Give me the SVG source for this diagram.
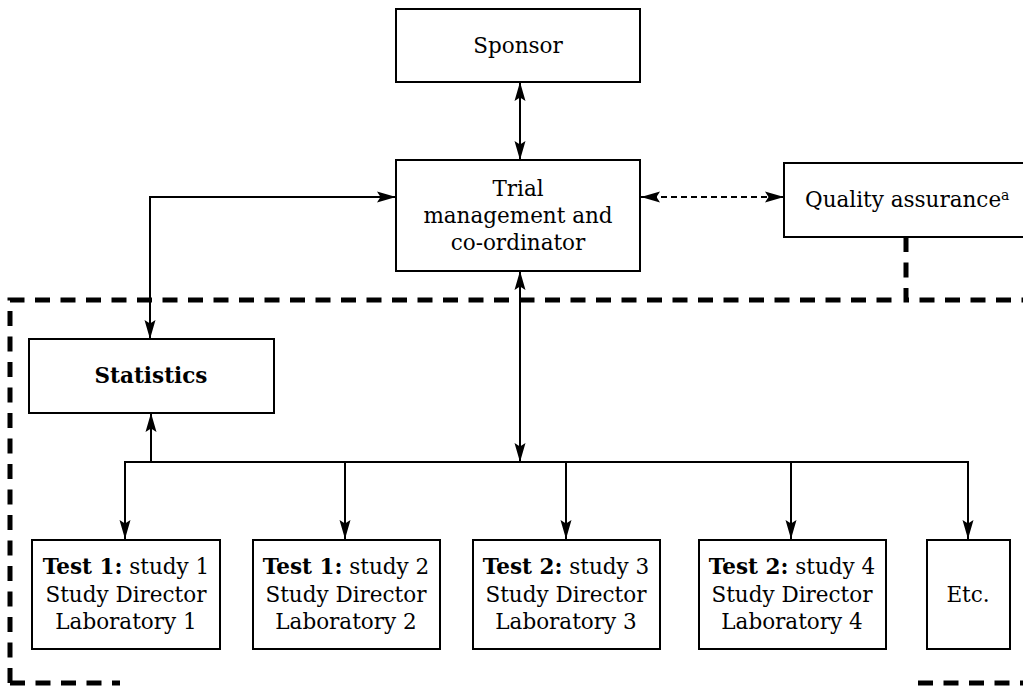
<svg xmlns="http://www.w3.org/2000/svg" width="1023" height="687" viewBox="0 0 1023 687">
  <style>
    .box { fill: #fff; stroke: #000; stroke-width: 2; }
    .t { font-family: "DejaVu Serif", "Liberation Serif", serif; font-size: 21.5px; fill: #000; text-anchor: middle; }
    .b { font-weight: bold; }
    .con { fill: none; stroke: #000; stroke-width: 2; }
    .dash { stroke-dasharray: 6 4; }
    .border { fill: none; stroke: #000; stroke-width: 5; stroke-dasharray: 15 10.5; }
  </style>
  <defs>
    <marker id="arr" markerUnits="userSpaceOnUse" markerWidth="19" markerHeight="12" refX="19" refY="6" orient="auto-start-reverse">
      <path d="M0,0.5 L19,6 L0,11.5 L3.5,6 z" fill="#000"/>
    </marker>
  </defs>

  <rect width="1023" height="687" fill="#fff"/>

  <!-- dashed boundary of the test facilities -->
  <g id="boundary">
    <path class="border" d="M10,683 L10,300 L898,300"/>
    <path class="border" d="M10,683 L120,683"/>
    <path class="border" d="M906,237 L906,300 L1030,300"/>
    <path class="border" d="M918,683 L1030,683"/>
  </g>

  <g id="connectors">
    <line class="con" x1="520" y1="82" x2="520" y2="160" marker-start="url(#arr)" marker-end="url(#arr)"/>
    <path class="con" d="M396,197 H150 V339" marker-start="url(#arr)" marker-end="url(#arr)"/>
    <line class="con dash" x1="641" y1="197" x2="784" y2="197" marker-start="url(#arr)" marker-end="url(#arr)"/>
    <line class="con" x1="520" y1="271" x2="520" y2="462" marker-start="url(#arr)" marker-end="url(#arr)"/>
    <line class="con" x1="125" y1="462" x2="968" y2="462"/>
    <line class="con" x1="151" y1="462" x2="151" y2="413" marker-end="url(#arr)"/>
    <line class="con" x1="125" y1="461" x2="125" y2="539" marker-end="url(#arr)"/>
    <line class="con" x1="345" y1="462" x2="345" y2="539" marker-end="url(#arr)"/>
    <line class="con" x1="566" y1="462" x2="566" y2="539" marker-end="url(#arr)"/>
    <line class="con" x1="791" y1="462" x2="791" y2="539" marker-end="url(#arr)"/>
    <line class="con" x1="968" y1="461" x2="968" y2="539" marker-end="url(#arr)"/>
  </g>

  <g id="sponsor">
    <rect class="box" x="396" y="9" width="244" height="73"/>
    <text class="t" x="518" y="53">Sponsor</text>
  </g>

  <g id="trial-management">
    <rect class="box" x="396" y="160" width="244" height="111"/>
    <text class="t" x="518" y="196">Trial</text>
    <text class="t" x="518" y="223">management and</text>
    <text class="t" x="518" y="250">co-ordinator</text>
  </g>

  <g id="quality-assurance">
    <rect class="box" x="784" y="163" width="250" height="74"/>
    <text class="t" x="805" y="207" style="text-anchor:start">Quality assurance<tspan font-size="14" dy="-7">a</tspan></text>
  </g>

  <g id="statistics">
    <rect class="box" x="29" y="339" width="245" height="74"/>
    <text class="t b" x="151" y="383">Statistics</text>
  </g>

  <g id="study-1">
    <rect class="box" x="32" y="540" width="188" height="109"/>
    <text class="t" x="126" y="574"><tspan class="b">Test 1:</tspan> study 1</text>
    <text class="t" x="126" y="602">Study Director</text>
    <text class="t" x="126" y="629">Laboratory 1</text>
  </g>

  <g id="study-2">
    <rect class="box" x="253" y="540" width="187" height="109"/>
    <text class="t" x="346" y="574"><tspan class="b">Test 1:</tspan> study 2</text>
    <text class="t" x="346" y="602">Study Director</text>
    <text class="t" x="346" y="629">Laboratory 2</text>
  </g>

  <g id="study-3">
    <rect class="box" x="473" y="540" width="187" height="109"/>
    <text class="t" x="566" y="574"><tspan class="b">Test 2:</tspan> study 3</text>
    <text class="t" x="566" y="602">Study Director</text>
    <text class="t" x="566" y="629">Laboratory 3</text>
  </g>

  <g id="study-4">
    <rect class="box" x="699" y="540" width="187" height="109"/>
    <text class="t" x="792" y="574"><tspan class="b">Test 2:</tspan> study 4</text>
    <text class="t" x="792" y="602">Study Director</text>
    <text class="t" x="792" y="629">Laboratory 4</text>
  </g>

  <g id="etc">
    <rect class="box" x="927" y="540" width="83" height="109"/>
    <text class="t" x="968" y="602">Etc.</text>
  </g>
</svg>
